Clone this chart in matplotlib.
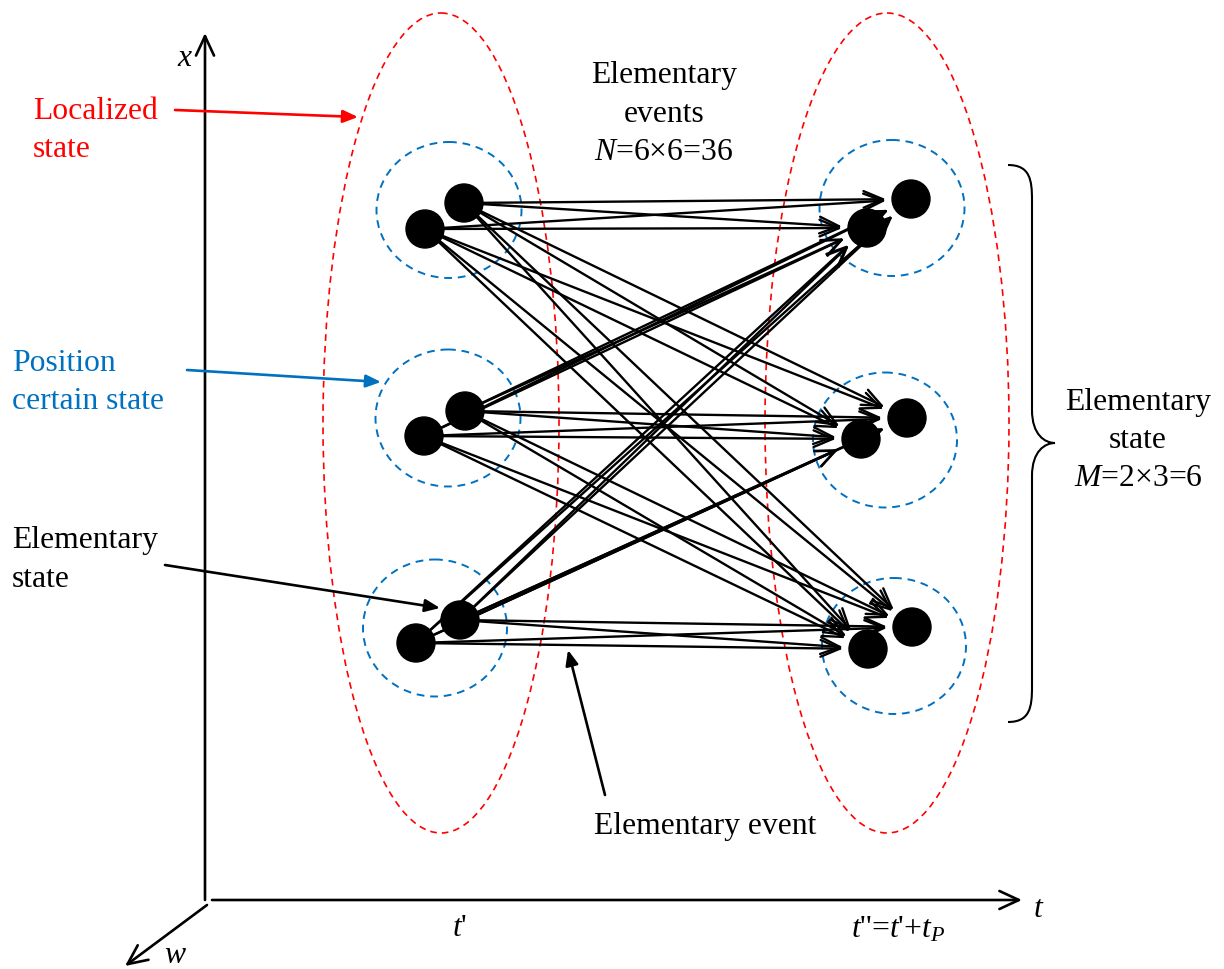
import numpy as np
import matplotlib
matplotlib.use('Agg')
import matplotlib.pyplot as plt
from matplotlib.patches import Circle, Ellipse, PathPatch
from matplotlib.path import Path

plt.rcParams['font.family'] = ['Liberation Serif', 'DejaVu Serif']
plt.rcParams['mathtext.fontset'] = 'custom'
plt.rcParams['mathtext.rm'] = 'Liberation Serif'
plt.rcParams['mathtext.it'] = 'Liberation Serif:italic'

# node positions (pixel coords of the original drawing)
left_nodes = [(425, 229), (464, 203), (424, 436), (465, 411), (416, 643), (460, 620)]
right_nodes = [(867, 228), (911, 199), (861, 439), (907, 418), (868, 649), (912, 627)]
# position-certain circles: centre x, centre y, width, height
pos_circles = [(449, 210, 145, 136), (448, 418, 145, 137), (435, 628, 144, 137),
               (892, 208, 145, 136), (885, 440, 144, 135), (894, 646, 144, 136)]
# localized-state ellipses
loc_ellipses = [(441, 423, 236, 820), (887, 423, 244, 820)]

red = '#FF0000'
blue = '#0070C0'
fs = 22.8

fig = plt.figure(figsize=(12.24, 9.69), dpi=100)
ax = fig.add_axes([0, 0, 1, 1])
ax.set_xlim(0, 1224)
ax.set_ylim(969, 0)
ax.axis('off')


def lines(x, y0, txt, dy, ha='left', color='k'):
    for i, s in enumerate(txt):
        ax.text(x, y0 + i * dy, s, fontsize=fs, ha=ha, va='baseline', color=color)


axis_arrow = dict(arrowstyle='->, head_length=1.4, head_width=0.65', lw=1.9, color='k',
                  shrinkA=0, shrinkB=0)
ax.annotate('', xy=(205, 33), xytext=(205, 900), arrowprops=axis_arrow)
ax.annotate('', xy=(1022, 900), xytext=(212, 900), arrowprops=axis_arrow)
ax.annotate('', xy=(125, 966), xytext=(207, 905), arrowprops=axis_arrow)

# ellipses
for cx, cy, w, h in loc_ellipses:
    ax.add_patch(Ellipse((cx, cy), w, h, fill=False, ec=red, lw=1.2, ls=(0, (4, 3))))
for cx, cy, w, h in pos_circles:
    ax.add_patch(Ellipse((cx, cy), w, h, fill=False, ec=blue, lw=1.4, ls=(0, (4, 3))))

# elementary events: every left node to every right node
for p in left_nodes:
    for q in right_nodes:
        ax.annotate('', xy=q, xytext=p,
                    arrowprops=dict(arrowstyle='->, head_length=1.4, head_width=0.6', lw=1.7,
                                    color='k', shrinkA=0, shrinkB=18))

for x, y in left_nodes + right_nodes:
    ax.add_patch(Circle((x, y), 19, color='k', zorder=5))

# brace
verts = [(1008, 165), (1030, 165), (1032, 180), (1032, 200),
         (1032, 410),
         (1032, 435), (1045, 443), (1055, 443),
         (1045, 443), (1032, 451), (1032, 476),
         (1032, 687),
         (1032, 707), (1030, 722), (1008, 722)]
codes = [Path.MOVETO, Path.CURVE4, Path.CURVE4, Path.CURVE4,
         Path.LINETO,
         Path.CURVE4, Path.CURVE4, Path.CURVE4,
         Path.CURVE4, Path.CURVE4, Path.CURVE4,
         Path.LINETO,
         Path.CURVE4, Path.CURVE4, Path.CURVE4]
ax.add_patch(PathPatch(Path(verts, codes), fill=False, lw=1.5, ec='k'))

# callouts
call = dict(arrowstyle='-|>, head_length=0.9, head_width=0.38', lw=1.9, shrinkA=0, shrinkB=0)
lines(33, 119, ['Localized', 'state'], 38, color=red)
ax.annotate('', xy=(358, 117), xytext=(175, 110), arrowprops=dict(call, color=red))
lines(12, 371, ['Position', 'certain state'], 38, color=blue)
ax.annotate('', xy=(381, 382), xytext=(187, 370), arrowprops=dict(call, color=blue))
lines(12, 548, ['Elementary', 'state'], 39)
ax.annotate('', xy=(440, 608), xytext=(165, 565), arrowprops=dict(call, color='k'))
lines(705, 834, ['Elementary event'], 0, ha='center')
ax.annotate('', xy=(568, 650), xytext=(605, 795), arrowprops=dict(call, color='k'))

lines(664, 83, ['Elementary', 'events', '$N$=6×6=36'], 38.5, ha='center')
lines(1138, 410, ['Elementary', 'state', '$M$=2×3=6'], 38, ha='center')

ax.text(185, 66, '$x$', fontsize=fs, ha='center', va='baseline')
ax.text(1039, 917, '$t$', fontsize=fs, ha='center', va='baseline')
ax.text(175, 963, '$w$', fontsize=fs, ha='center', va='baseline')
ax.text(460, 936, "$t$'", fontsize=fs, ha='center', va='baseline')
ax.text(898, 937, "$t$''=$t$'+$t_P$", fontsize=fs, ha='center', va='baseline')

plt.savefig('out.png', dpi=100)
